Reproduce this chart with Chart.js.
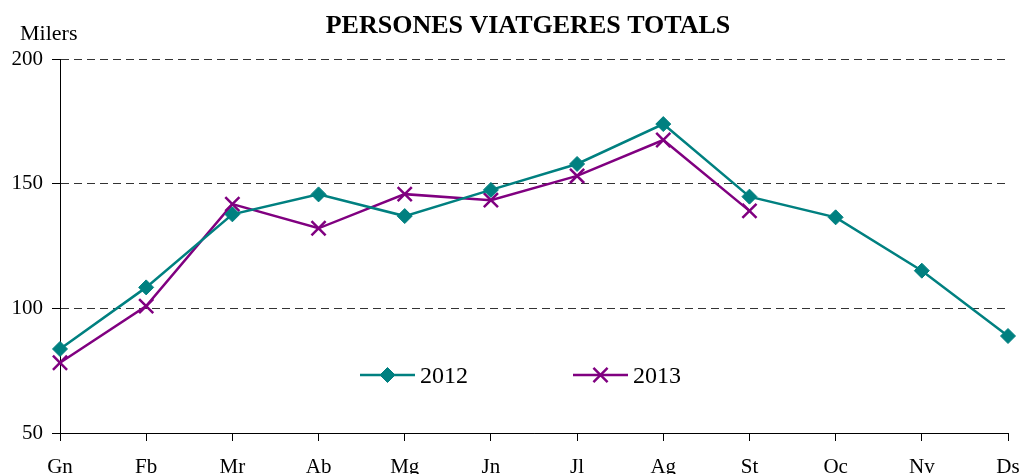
<!DOCTYPE html>
<html>
<head>
<meta charset="utf-8">
<script src="https://cdn.jsdelivr.net/npm/chart.js@4/dist/chart.umd.min.js"></script>
<style>
  html, body { margin: 0; padding: 0; background: #fff; overflow: hidden; }
  canvas { display: block; }
</style>
</head>
<body>
<canvas id="chart" width="1022" height="474"></canvas>
<script>
const months = ["Gn", "Fb", "Mr", "Ab", "Mg", "Jn", "Jl", "Ag", "St", "Oc", "Nv", "Ds"];
const values2012 = [83.7, 108.4, 137.7, 145.7, 137.0, 147.5, 157.9, 173.9, 144.8, 136.5, 115.1, 88.9];
const values2013 = [78.2, 100.9, 141.8, 132.1, 145.8, 143.4, 153.1, 167.5, 139.1, null, null, null];
const yTicks = [50, 100, 150, 200];

const serif = "'Liberation Serif', 'Times New Roman', serif";

// title, unit label and the legend inside the plot
const textPlugin = {
  id: "textPlugin",
  afterDraw(chart) {
    const ctx = chart.ctx;
    ctx.save();
    ctx.fillStyle = "#000";
    ctx.textBaseline = "alphabetic";
    ctx.font = "bold 26px " + serif;
    ctx.textAlign = "center";
    ctx.fillText("PERSONES VIATGERES TOTALS", 528, 33);
    ctx.font = "22px " + serif;
    ctx.textAlign = "left";
    ctx.fillText("Milers", 20, 40);

    const items = [{ x: 360, ds: 0 }, { x: 573, ds: 1 }];
    items.forEach((it) => {
      const ds = chart.data.datasets[it.ds];
      const y = 375;
      ctx.strokeStyle = ds.borderColor;
      ctx.lineWidth = ds.borderWidth;
      ctx.beginPath();
      ctx.moveTo(it.x, y);
      ctx.lineTo(it.x + 55, y);
      ctx.stroke();
      ctx.fillStyle = ds.pointBackgroundColor;
      ctx.strokeStyle = ds.pointBorderColor;
      ctx.lineWidth = ds.pointBorderWidth;
      Chart.helpers.drawPoint(ctx, { pointStyle: ds.pointStyle, radius: ds.pointRadius, borderWidth: ds.pointBorderWidth, rotation: 0 }, it.x + 27.5, y);
      ctx.fillStyle = "#000";
      ctx.font = "24px " + serif;
      ctx.textAlign = "left";
      ctx.fillText(ds.label, it.x + 60, y + 8);
    });
    ctx.restore();
  },
};

const ctx = document.getElementById("chart").getContext("2d");

const chart = new Chart(ctx, {
  type: "line",
  data: {
    labels: months,
    datasets: [
      {
        label: "2012",
        data: values2012,
        borderColor: "#008080",
        borderWidth: 2.5,
        pointStyle: "rectRot",
        pointRadius: 7.5,
        pointBackgroundColor: "#008080",
        pointBorderColor: "#008080",
        pointBorderWidth: 1,
        tension: 0,
      },
      {
        label: "2013",
        data: values2013,
        borderColor: "#800080",
        borderWidth: 2.5,
        pointStyle: "crossRot",
        pointRadius: 10,
        pointBackgroundColor: "#800080",
        pointBorderColor: "#800080",
        pointBorderWidth: 2.5,
        tension: 0,
      },
    ],
  },
  options: {
    responsive: false,
    animation: false,
    layout: { padding: { top: 59, right: 14, left: 0, bottom: 0 } },
    plugins: {
      legend: { display: false },
      title: { display: false },
      tooltip: { enabled: false },
    },
    scales: {
      x: {
        offset: false,
        grid: {
          drawOnChartArea: false,
          drawTicks: true,
          tickLength: 8,
          tickColor: "#000",
          tickWidth: 1,
        },
        border: { display: true, color: "#000", width: 1 },
        ticks: {
          color: "#000",
          font: { family: serif, size: 21 },
          padding: 14,
          autoSkip: false,
          maxRotation: 0,
        },
        afterFit(scale) {
          scale.height = 41;
          scale.paddingLeft = 0;
          scale.paddingRight = 0;
        },
      },
      y: {
        min: 50,
        max: 200,
        afterBuildTicks(scale) {
          scale.ticks = yTicks.map((v) => ({ value: v }));
        },
        grid: {
          color: "#333",
          lineWidth: 1,
          tickLength: 8,
          tickColor: "#000",
        },
        border: { display: true, color: "#000", width: 1, dash: [8, 5] },
        ticks: {
          color: "#000",
          font: { family: serif, size: 21 },
          padding: 9,
        },
        afterFit(scale) {
          scale.width = 60;
        },
      },
    },
  },
  plugins: [textPlugin],
});
</script>
</body>
</html>
